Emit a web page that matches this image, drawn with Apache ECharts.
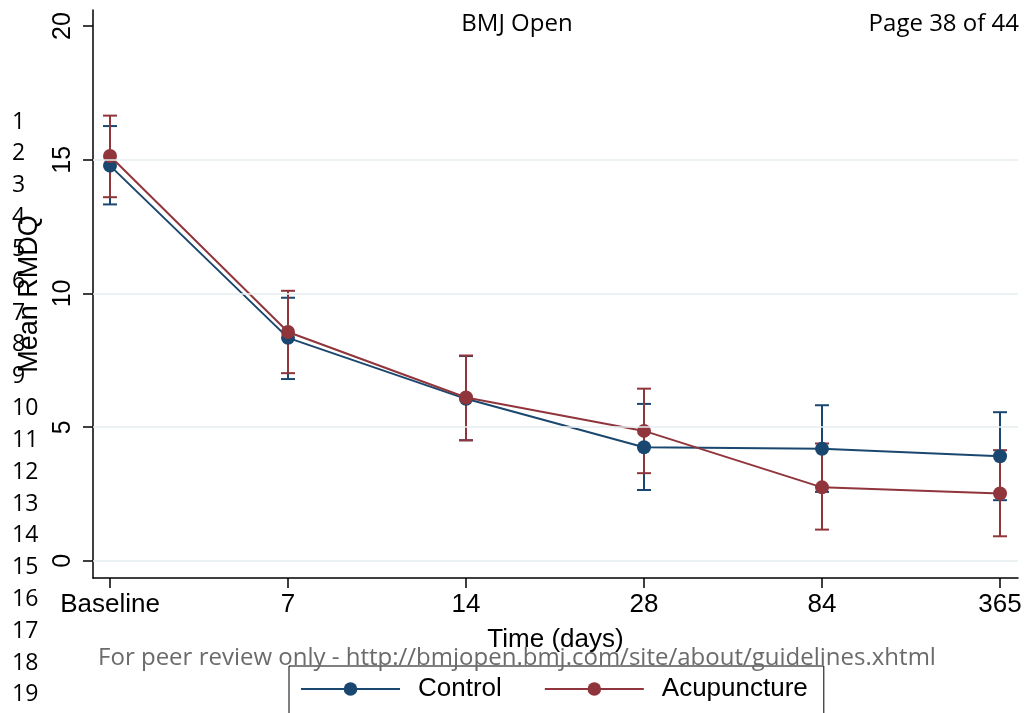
<!DOCTYPE html>
<html>
<head>
<meta charset="utf-8">
<script src="https://cdn.jsdelivr.net/npm/echarts@6/dist/echarts.min.js"></script>
<style>
  html, body { margin: 0; padding: 0; background: #fff; }
  #chart { width: 1026px; height: 713px; }
</style>
</head>
<body>
<div id="chart"></div>
<script>
// categories on the x axis
const timeLabels = ['Baseline', '7', '14', '28', '84', '365']

// Control group: mean and 95% CI
const controlMean = [14.78, 8.34, 6.06, 4.25, 4.19, 3.91]
const controlLow = [13.33, 6.80, 4.51, 2.65, 2.58, 2.27]
const controlHigh = [16.26, 9.84, 7.66, 5.87, 5.82, 5.56]

// Acupuncture group: mean and 95% CI
const acupMean = [15.14, 8.56, 6.11, 4.86, 2.75, 2.52]
const acupLow = [13.60, 7.02, 4.51, 3.28, 1.17, 0.92]
const acupHigh = [16.65, 10.10, 7.68, 6.44, 4.39, 4.14]

// y axis ticks and grid lines
const yTicks = [0, 5, 10, 15, 20]
const yGrid = [0, 5, 10, 15]

// page decorations
const lineNumbers = ['1','2','3','4','5','6','7','8','9','10','11','12','13','14','15','16','17','18','19']
const headerTitle = 'BMJ Open'
const headerPage = 'Page 38 of 44'
const footerText = 'For peer review only - http://bmjopen.bmj.com/site/about/guidelines.xhtml'

const navy = '#1a476f'
const maroon = '#90353b'
const font = 'Liberation Sans, Arial, sans-serif'
const pageFont = '"Open Sans", sans-serif'

const chart = echarts.init(document.getElementById('chart'))

// vertical CI bar with caps
function errorBars(color) {
  return function(params, api) {
    const lo = api.coord([api.value(0), api.value(1)])
    const hi = api.coord([api.value(0), api.value(2)])
    const w = 7
    const style = { stroke: color, lineWidth: 2 }
    return {
      type: 'group',
      children: [
        { type: 'line', shape: { x1: lo[0], y1: lo[1], x2: hi[0], y2: hi[1] }, style },
        { type: 'line', shape: { x1: lo[0] - w, y1: lo[1], x2: lo[0] + w, y2: lo[1] }, style },
        { type: 'line', shape: { x1: hi[0] - w, y1: hi[1], x2: hi[0] + w, y2: hi[1] }, style }
      ]
    }
  }
}

const graphics = lineNumbers.map((t, i) => ({
  type: 'text',
  style: {
    text: t, x: 12, y: 122 + i * 31.83,
    verticalAlign: 'middle', align: 'left',
    font: '23px ' + pageFont, fill: '#000'
  },
  z: 10
}))
graphics.push(
  {
    type: 'text',
    style: { text: headerTitle, x: 517, y: 24, align: 'center', verticalAlign: 'middle', font: '24px ' + pageFont, fill: '#000' }
  },
  {
    type: 'text',
    style: { text: headerPage, x: 1019, y: 24, align: 'right', verticalAlign: 'middle', font: '24px ' + pageFont, fill: '#000' }
  },
  {
    type: 'text',
    style: { text: footerText, x: 517, y: 658, align: 'center', verticalAlign: 'middle', font: '24px ' + pageFont, fill: '#6b6b6b' },
    z: 10
  }
)

chart.setOption({
  animation: false,
  textStyle: { fontFamily: font },
  grid: { left: 93, right: 8, top: 10, bottom: 135 },
  xAxis: {
    type: 'value',
    min: -0.0955,
    max: 5.101,
    name: 'Time (days)',
    nameLocation: 'middle',
    nameGap: 49,
    nameTextStyle: { fontSize: 26, color: '#000' },
    axisLine: { onZero: false, lineStyle: { color: '#000', width: 1.5 } },
    axisTick: { length: 10, customValues: [0, 1, 2, 3, 4, 5], lineStyle: { color: '#000', width: 1.5 } },
    axisLabel: {
      customValues: [0, 1, 2, 3, 4, 5],
      margin: 14,
      fontSize: 26,
      color: '#000',
      formatter: v => timeLabels[Math.round(v)]
    },
    splitLine: { show: false }
  },
  yAxis: {
    type: 'value',
    min: -0.64,
    max: 20.6,
    name: 'Mean RMDQ',
    nameLocation: 'middle',
    nameRotate: 90,
    nameGap: 50,
    nameTextStyle: { fontSize: 27, color: '#000' },
    axisLine: { show: true, onZero: false, lineStyle: { color: '#000', width: 1.5 } },
    axisTick: { show: true, length: 10, customValues: yTicks, lineStyle: { color: '#000', width: 1.5 } },
    axisLabel: { customValues: yTicks, rotate: 90, margin: 17, fontSize: 25, color: '#000' },
    splitLine: { show: false }
  },
  legend: {
    data: ['Control', 'Acupuncture'],
    left: 289,
    top: 666,
    padding: [10, 16, 40, 11],
    itemGap: 42,
    itemWidth: 99,
    itemHeight: 17,
    borderColor: '#000',
    borderWidth: 1,
    textStyle: { fontSize: 26, color: '#000', padding: [0, 0, 0, 13] }
  },
  graphic: graphics,
  series: [
    {
      name: 'grid',
      type: 'line',
      data: [],
      silent: true,
      markLine: {
        silent: true,
        symbol: 'none',
        label: { show: false },
        lineStyle: { color: '#e6eef1', width: 1.5, type: 'solid' },
        data: yGrid.map(v => ({ yAxis: v }))
      }
    },
    {
      name: 'Control CI',
      type: 'custom',
      renderItem: errorBars(navy),
      data: controlLow.map((v, i) => [i, v, controlHigh[i]]),
      z: 2
    },
    {
      name: 'Acupuncture CI',
      type: 'custom',
      renderItem: errorBars(maroon),
      data: acupLow.map((v, i) => [i, v, acupHigh[i]]),
      z: 2
    },
    {
      name: 'Control',
      type: 'line',
      data: controlMean.map((v, i) => [i, v]),
      symbol: 'circle',
      symbolSize: 14,
      showAllSymbol: true,
      lineStyle: { color: navy, width: 2 },
      itemStyle: { color: navy },
      z: 3
    },
    {
      name: 'Acupuncture',
      type: 'line',
      data: acupMean.map((v, i) => [i, v]),
      symbol: 'circle',
      symbolSize: 14,
      showAllSymbol: true,
      lineStyle: { color: maroon, width: 2 },
      itemStyle: { color: maroon },
      z: 4
    }
  ]
})
</script>
</body>
</html>
